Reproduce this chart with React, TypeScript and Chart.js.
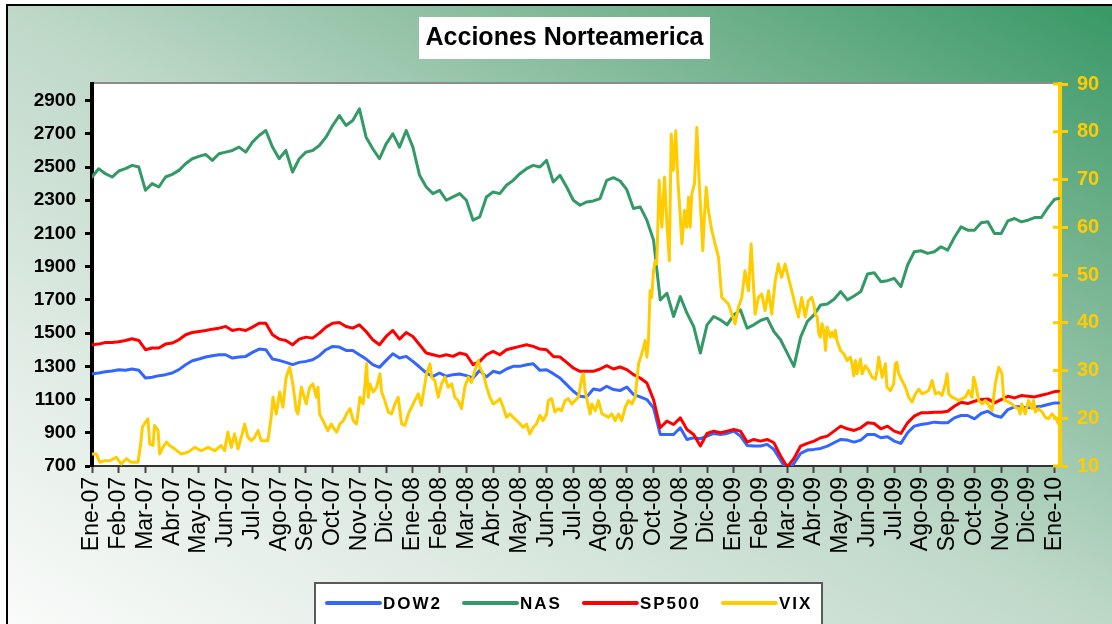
import React, { useEffect, useRef } from "react";
import { Chart, registerables } from "chart.js";

Chart.register(...registerables);

const FONT = "'Liberation Sans', Arial, Helvetica, sans-serif";

const monthLabels = [
  "Ene-07", "Feb-07", "Mar-07", "Abr-07", "May-07", "Jun-07", "Jul-07", "Ago-07", "Sep-07", "Oct-07", "Nov-07", "Dic-07",
  "Ene-08", "Feb-08", "Mar-08", "Abr-08", "May-08", "Jun-08", "Jul-08", "Ago-08", "Sep-08", "Oct-08", "Nov-08", "Dic-08",
  "Ene-09", "Feb-09", "Mar-09", "Abr-09", "May-09", "Jun-09", "Jul-09", "Ago-09", "Sep-09", "Oct-09", "Nov-09", "Dic-09",
  "Ene-10",
];

const leftTicks = [700, 900, 1100, 1300, 1500, 1700, 1900, 2100, 2300, 2500, 2700, 2900];
const rightTicks = [10, 20, 30, 40, 50, 60, 70, 80, 90];

// weekly time grid, in months since Ene-07 (time axis, not values)
const weekMonths: number[] = [];
for (let i = 0; i <= 144; i++) weekMonths.push(i / 4);
weekMonths.push(36.15);

const dowValues = [
  1256, 1260, 1268, 1272, 1280, 1276, 1284, 1276, 1230, 1234, 1244, 1250,
  1260, 1280, 1310, 1334, 1344, 1356, 1364, 1370, 1370, 1350, 1356, 1360,
  1384, 1404, 1400, 1344, 1336, 1324, 1310, 1324, 1330, 1340, 1364, 1400,
  1420, 1416, 1396, 1396, 1370, 1344, 1310, 1294, 1336, 1376, 1350, 1360,
  1330, 1296, 1260, 1240, 1260, 1240, 1250, 1254, 1244, 1230, 1276, 1236,
  1270, 1260, 1284, 1300, 1300, 1310, 1316, 1276, 1280, 1256, 1230, 1190,
  1150, 1120, 1116, 1164, 1156, 1180, 1160, 1154, 1176, 1130, 1116, 1100,
  1050, 890, 890, 890, 930, 860, 870, 864, 880, 896, 890, 896,
  910, 880, 824, 820, 820, 830, 800, 735, 670, 715, 776, 796,
  800, 806, 820, 840, 860, 856, 844, 856, 890, 890, 870, 876,
  850, 836, 900, 940, 950, 956, 964, 960, 960, 990, 1004, 1004,
  984, 1016, 1030, 1004, 994, 1040, 1056, 1056, 1050, 1056, 1060, 1070,
  1080, 1080,
];

const nasValues = [
  2440, 2490, 2460, 2440, 2476, 2490, 2510, 2500, 2360, 2400, 2380, 2440,
  2456, 2480, 2520, 2550, 2564, 2576, 2540, 2580, 2590, 2600, 2620, 2590,
  2650, 2690, 2720, 2620, 2550, 2600, 2470, 2550, 2590, 2600, 2630, 2680,
  2750, 2810, 2750, 2780, 2850, 2680, 2610, 2550, 2640, 2700, 2620, 2720,
  2620, 2450, 2380, 2340, 2360, 2300, 2320, 2340, 2300, 2180, 2200, 2320,
  2350, 2340, 2390, 2420, 2460, 2490, 2510, 2500, 2540, 2410, 2450, 2380,
  2300, 2270, 2290, 2296, 2310, 2420, 2436, 2416, 2364, 2250, 2260, 2180,
  2060, 1700, 1740, 1600, 1720, 1620, 1540, 1380, 1550, 1600, 1580, 1550,
  1610, 1640, 1530, 1550, 1576, 1590, 1510, 1460, 1380, 1300, 1476, 1570,
  1610, 1670, 1676, 1704, 1750, 1700, 1724, 1750, 1856, 1864, 1810, 1816,
  1830, 1780, 1910, 1990, 1996, 1980, 1990, 2020, 2000, 2076, 2140, 2120,
  2120, 2164, 2170, 2100, 2100, 2176, 2190, 2170, 2180, 2196, 2196, 2256,
  2306, 2310,
];

const spValues = [
  1430, 1434, 1444, 1444, 1448, 1456, 1466, 1456, 1400, 1410, 1410, 1434,
  1440, 1460, 1490, 1504, 1510, 1516, 1524, 1530, 1540, 1516, 1524, 1516,
  1536, 1560, 1560, 1490, 1464, 1456, 1430, 1464, 1476, 1470, 1500, 1536,
  1560, 1564, 1540, 1530, 1550, 1510, 1460, 1430, 1480, 1516, 1464, 1504,
  1480, 1430, 1380, 1370, 1360, 1370, 1360, 1380, 1370, 1310, 1330, 1370,
  1390, 1370, 1400, 1410, 1420, 1430, 1420, 1404, 1400, 1360, 1356, 1324,
  1290, 1270, 1270, 1270, 1284, 1304, 1284, 1296, 1280, 1250, 1230, 1200,
  1100, 930, 970, 950, 990, 920, 890, 820, 896, 910, 900, 910,
  920, 910, 844, 860, 850, 860, 840, 760, 695, 745, 820, 836,
  850, 870, 880, 910, 940, 924, 914, 930, 960, 956, 924, 940,
  910, 896, 960, 1000, 1020, 1020, 1024, 1024, 1030, 1060, 1084, 1076,
  1090, 1100, 1104, 1080, 1100, 1120, 1110, 1124, 1120, 1116, 1126, 1136,
  1148, 1150,
];

const vixMonths = [
  0.0, 0.16, 0.29, 0.47, 0.66, 0.91, 1.1, 1.28, 1.47, 1.72, 1.82, 1.88, 2.0, 2.09, 2.16, 2.28, 2.34, 2.47, 2.53,
  2.65, 2.78, 2.9, 3.09, 3.34, 3.59, 3.84, 4.09, 4.34, 4.59, 4.83, 4.96, 5.08, 5.21, 5.33, 5.46, 5.58, 5.71, 5.83,
  5.96, 6.08, 6.21, 6.33, 6.58, 6.7, 6.77, 6.89, 7.02, 7.14, 7.26, 7.39, 7.51, 7.64, 7.7, 7.83, 8.01, 8.14, 8.26,
  8.39, 8.45, 8.51, 8.7, 8.82, 8.95,
  9.02, 9.15, 9.27, 9.4, 9.52, 9.65, 9.77, 9.89, 9.96, 10.02, 10.14, 10.21, 10.27, 10.33, 10.39, 10.52, 10.64, 10.77,
  10.83, 10.95, 11.08, 11.2, 11.33, 11.45, 11.58, 11.7, 11.83, 11.95, 12.07, 12.2, 12.32, 12.45, 12.51, 12.64, 12.7,
  12.82, 12.95, 13.07, 13.2, 13.32, 13.45, 13.57, 13.69, 13.82, 13.94, 14.07, 14.19, 14.32, 14.44, 14.5, 14.63, 14.76,
  14.88, 15.0, 15.13, 15.25, 15.38, 15.5, 15.63, 15.75, 15.94, 16.12, 16.25, 16.37, 16.5, 16.62, 16.75, 16.87, 17.0,
  17.06, 17.19, 17.31, 17.44, 17.56, 17.69, 17.81, 17.94,
  18.19, 18.32, 18.38, 18.44, 18.57, 18.63, 18.69, 18.82, 18.94, 19.07, 19.19, 19.31, 19.44, 19.56, 19.69, 19.81,
  19.94, 20.06, 20.19, 20.31, 20.44, 20.56, 20.69, 20.75, 20.81, 20.87, 20.93, 21.0, 21.06, 21.12, 21.21, 21.31,
  21.41, 21.5, 21.59, 21.66, 21.74, 21.83, 21.91, 22.0, 22.06, 22.16, 22.24, 22.31, 22.37, 22.43, 22.53, 22.62,
  22.71, 22.78, 22.84, 22.9, 22.97, 23.05, 23.18, 23.3, 23.43, 23.55, 23.68, 23.8, 23.93, 24.05, 24.17, 24.3, 24.42,
  24.55, 24.65, 24.74, 24.8, 24.92, 25.05, 25.17, 25.3, 25.42, 25.55, 25.67, 25.79, 25.92, 26.04, 26.17, 26.29,
  26.42, 26.54, 26.67, 26.79, 26.92,
  26.99, 27.05, 27.12, 27.18, 27.24, 27.3, 27.37, 27.43, 27.49, 27.61, 27.68, 27.74, 27.8, 27.86, 27.99, 28.11,
  28.24, 28.36, 28.42, 28.49, 28.55, 28.61, 28.74, 28.8, 28.92, 29.05, 29.17, 29.3, 29.36, 29.42, 29.55, 29.61,
  29.67, 29.73, 29.86, 29.98, 30.04, 30.1, 30.17, 30.29, 30.42, 30.54, 30.67, 30.79, 30.92, 31.04, 31.17, 31.29,
  31.42, 31.54, 31.67, 31.79, 31.91, 31.98, 32.04, 32.16, 32.29, 32.41, 32.54, 32.66, 32.79, 32.91, 32.97, 33.04,
  33.16, 33.29, 33.41, 33.54, 33.66, 33.78, 33.91, 34.03, 34.09, 34.15, 34.28, 34.4, 34.53, 34.65, 34.71, 34.77,
  34.9, 35.02, 35.15, 35.21, 35.28, 35.4, 35.53, 35.65, 35.77, 35.9, 36.02, 36.15,
];

const vixValues = [
  12.5, 12.5, 10.8, 11.1, 11.1, 11.8, 10.4, 11.5, 10.8, 10.8, 14.6, 18.1, 19.2, 19.9, 14.6, 14.3, 18.5, 17.4, 12.5,
  13.9, 15.0, 14.3, 13.6, 12.5, 12.9, 13.9, 13.2, 13.9, 13.2, 14.3, 13.2, 17.1, 13.9, 16.7, 13.6, 16.0, 18.8, 16.0,
  15.3, 16.0, 17.4, 15.3, 15.3, 20.2, 24.4, 20.9, 25.5, 22.3, 28.6, 30.7, 27.2, 21.6, 20.9, 26.5, 23.0, 26.5, 27.2,
  24.4, 26.5, 20.9, 18.8, 17.4, 18.8,
  18.1, 17.1, 18.8, 19.5, 20.9, 22.0, 19.5, 18.8, 21.6, 24.4, 23.0, 27.2, 31.4, 24.4, 27.2, 25.5, 26.5, 29.3,
  25.5, 23.7, 21.3, 20.9, 23.0, 24.4, 18.8, 18.5, 20.9, 22.3, 23.7, 25.1, 22.7, 27.2, 29.3, 31.4, 28.6,
  27.9, 24.4, 27.2, 28.6, 26.5, 27.2, 24.4, 23.7, 22.0, 26.5, 28.6, 27.5, 30.0, 32.1, 30.7, 29.3, 26.5,
  24.4, 23.0, 23.4, 24.1, 22.3, 20.2, 20.9, 20.2, 19.2, 18.1, 18.8, 16.7, 18.1, 18.8, 20.6, 19.5, 20.9,
  23.7, 24.1, 21.3, 22.0, 21.6, 23.7, 24.1, 23.0,
  24.4, 28.6, 29.3, 25.8, 22.3, 20.9, 23.0, 21.6, 23.7, 20.9, 20.6, 20.2, 20.9, 19.5, 20.9, 19.5,
  22.3, 23.7, 23.0, 24.4, 31.4, 33.5, 36.3, 32.8, 36.3, 46.7, 45.3, 50.9, 53.0, 52.3, 69.8, 60.0,
  70.5, 60.7, 53.0, 79.5, 71.9, 80.2, 69.8, 62.1, 56.5, 63.5, 60.0, 66.3, 60.0, 67.0, 69.1, 80.9,
  69.1, 62.1, 55.1, 62.1, 68.4, 63.5, 59.3, 56.5, 53.7, 45.3, 44.6, 43.9, 41.8, 39.8, 43.2, 45.3, 50.9,
  46.7, 56.5, 47.4, 41.8, 45.3, 46.0, 42.5, 46.7, 41.8, 48.8, 52.3, 49.5, 52.3, 49.5, 46.7, 43.9,
  41.2, 45.3, 41.2, 44.6, 45.3,
  43.9, 41.8, 41.2, 37.7, 37.0, 39.8, 38.4, 34.2, 39.1, 37.0, 38.0, 37.0, 38.4, 36.3, 34.2, 33.5,
  32.1, 32.8, 31.4, 28.9, 32.1, 29.3, 32.4, 29.3, 31.0, 30.0, 28.6, 28.2, 30.0, 32.8, 28.6, 30.0,
  31.4, 26.5, 25.8, 27.2, 31.4, 31.7, 29.3, 27.9, 26.5, 24.4, 23.4, 25.1, 26.1, 25.1, 25.4, 25.8,
  27.9, 25.1, 25.4, 24.8, 27.2, 29.3, 25.1, 24.4, 24.1, 23.7, 24.1, 24.4, 25.8, 24.4, 28.6, 27.2,
  23.7, 23.0, 23.7, 22.7, 21.6, 27.2, 30.7, 29.3, 24.4, 23.7, 23.4, 23.0, 22.3, 22.0, 20.9, 23.0,
  20.9, 23.7, 22.0, 23.7, 21.3, 22.0, 21.3, 20.2, 19.9, 20.9, 20.2, 18.8,
];

const seriesNames = ["DOW2", "NAS", "SP500", "VIX"];
const seriesColors = ["#3366ff", "#339966", "#ff0000", "#ffcc00"];

const chartTitle = "Acciones Norteamerica";

const framePlugin = {
  id: "frame",
  beforeDraw(chart: any) {
    const { ctx, width, height, chartArea: a } = chart;
    ctx.save();
    ctx.fillStyle = "#ffffff";
    ctx.fillRect(0, 0, width, height);
    const x0 = 7, y0 = 5;
    const W = width - x0, H = height - y0;
    const d = Math.hypot(W, H);
    const gx = -H / d, gy = W / d;
    const L = (W * H) / d;
    const cx = x0 + W / 2, cy = y0 + H / 2;
    const g = ctx.createLinearGradient(cx - gx * L, cy - gy * L, cx + gx * L, cy + gy * L);
    g.addColorStop(0, "rgb(56,152,102)");
    g.addColorStop(0.22, "rgb(118,180,144)");
    g.addColorStop(0.5, "rgb(190,216,200)");
    g.addColorStop(0.8, "rgb(228,238,232)");
    g.addColorStop(1, "rgb(250,251,250)");
    ctx.fillStyle = g;
    ctx.fillRect(x0, y0, W, H);
    ctx.strokeStyle = "#000";
    ctx.lineWidth = 2;
    ctx.beginPath();
    ctx.moveTo(x0, height);
    ctx.lineTo(x0, y0);
    ctx.lineTo(width, y0);
    ctx.stroke();
    ctx.fillStyle = "#ffffff";
    ctx.fillRect(a.left, a.top, a.right - a.left, a.bottom - a.top);
    ctx.strokeStyle = "#8c8c8c";
    ctx.lineWidth = 2;
    ctx.beginPath();
    ctx.moveTo(a.left, a.top - 1);
    ctx.lineTo(a.right, a.top - 1);
    ctx.stroke();
    ctx.restore();
  },
  afterDraw(chart: any) {
    const { ctx, chartArea: a } = chart;
    ctx.save();
    // right axis ticks crossing into plot
    const y1 = chart.scales.y1;
    ctx.strokeStyle = seriesColors[3];
    ctx.lineWidth = 3;
    rightTicks.forEach((v) => {
      const py = y1.getPixelForValue(v);
      ctx.beginPath();
      ctx.moveTo(a.right - 7, py);
      ctx.lineTo(a.right, py);
      ctx.stroke();
    });

    // title box
    ctx.fillStyle = "#ffffff";
    ctx.fillRect(419, 17, 291, 42);
    ctx.fillStyle = "#000";
    ctx.font = `bold 25px ${FONT}`;
    ctx.textAlign = "center";
    ctx.textBaseline = "middle";
    ctx.fillText(chartTitle, 564.5, 38.5);

    // legend box
    ctx.fillStyle = "#ffffff";
    ctx.fillRect(315, 583, 507, 50);
    ctx.strokeStyle = "#5a5a5a";
    ctx.lineWidth = 2;
    ctx.strokeRect(315, 583, 507, 50);
    ctx.font = `bold 17px ${FONT}`;
    try { (ctx as any).letterSpacing = "2px"; } catch (e) {}
    ctx.textAlign = "left";
    ctx.textBaseline = "middle";
    let x = 327;
    const ly = 603;
    seriesNames.forEach((name, i) => {
      ctx.strokeStyle = seriesColors[i];
      ctx.lineWidth = 4;
      ctx.lineCap = "round";
      ctx.beginPath();
      ctx.moveTo(x, ly);
      ctx.lineTo(x + 53, ly);
      ctx.stroke();
      ctx.fillStyle = "#000";
      ctx.fillText(name, x + 56, ly + 1);
      const w = ctx.measureText(name).width;
      x = x + 56 + w + 22;
    });
    ctx.restore();
  },
};

export default function App() {
  const ref = useRef<HTMLCanvasElement>(null);
  useEffect(() => {
    const canvas = ref.current;
    if (!canvas) return;
    const mk = (vals: number[]) => weekMonths.map((m, i) => ({ x: m, y: vals[i] }));
    const chart = new Chart(canvas, {
      type: "line",
      data: {
        datasets: [
          { label: seriesNames[0], data: mk(dowValues), borderColor: seriesColors[0], backgroundColor: seriesColors[0], yAxisID: "y", order: 3 },
          { label: seriesNames[1], data: mk(nasValues), borderColor: seriesColors[1], backgroundColor: seriesColors[1], yAxisID: "y", order: 2 },
          { label: seriesNames[2], data: mk(spValues), borderColor: seriesColors[2], backgroundColor: seriesColors[2], yAxisID: "y", order: 1 },
          {
            label: seriesNames[3],
            data: vixMonths.map((m, i) => ({ x: m, y: vixValues[i] })),
            borderColor: seriesColors[3],
            backgroundColor: seriesColors[3],
            yAxisID: "y1",
            order: 0,
          },
        ] as any,
      },
      options: {
        animation: false,
        responsive: false,
        devicePixelRatio: 1,
        layout: { padding: { top: 84, left: 0, right: 0, bottom: 0 } },
        elements: {
          line: { borderWidth: 3, tension: 0, borderJoinStyle: "round", borderCapStyle: "round" },
          point: { radius: 0, hoverRadius: 0 },
        },
        plugins: {
          legend: { display: false },
          title: { display: false },
          tooltip: { enabled: false },
        },
        events: [],
        scales: {
          x: {
            type: "linear",
            min: 0,
            max: 36.2,
            afterBuildTicks: (s: any) => {
              s.ticks = monthLabels.map((_, i) => ({ value: i }));
            },
            afterFit: (s: any) => {
              s.height = 158;
            },
            ticks: {
              autoSkip: false,
              maxRotation: 90,
              minRotation: 90,
              padding: 4,
              color: "#000",
              font: { family: FONT, size: 23 },
              callback: (v: any) => monthLabels[v] ?? "",
            },
            grid: { drawOnChartArea: false, drawTicks: true, tickLength: 7, tickColor: "#444", tickWidth: 2 },
            border: { display: true, color: "#333", width: 2 },
          },
          y: {
            type: "linear",
            position: "left",
            min: 700,
            max: 3000,
            afterBuildTicks: (s: any) => {
              s.ticks = leftTicks.map((v) => ({ value: v }));
            },
            afterFit: (s: any) => {
              s.width = 92;
            },
            ticks: {
              padding: 9,
              color: "#000",
              font: { family: FONT, size: 19, weight: "bold" },
              callback: (v: any) => String(v),
            },
            grid: { drawOnChartArea: false, drawTicks: true, tickLength: 7, tickColor: "#000", tickWidth: 3 },
            border: { display: true, color: "#000", width: 4 },
          },
          y1: {
            type: "linear",
            position: "right",
            min: 10,
            max: 90,
            afterBuildTicks: (s: any) => {
              s.ticks = rightTicks.map((v) => ({ value: v }));
            },
            afterFit: (s: any) => {
              s.width = 52;
            },
            ticks: {
              padding: 9,
              color: seriesColors[3],
              font: { family: FONT, size: 20, weight: "bold" },
              callback: (v: any) => String(v),
            },
            grid: { drawOnChartArea: false, drawTicks: true, tickLength: 8, tickColor: seriesColors[3], tickWidth: 3 },
            border: { display: true, color: seriesColors[3], width: 4 },
          },
        },
      } as any,
      plugins: [framePlugin],
    });
    return () => chart.destroy();
  }, []);
  return (
    <div style={{ position: "fixed", left: 0, top: 0, width: 1112, height: 624 }}>
      <canvas ref={ref} width={1112} height={624} style={{ display: "block", width: 1112, height: 624 }} />
    </div>
  );
}
